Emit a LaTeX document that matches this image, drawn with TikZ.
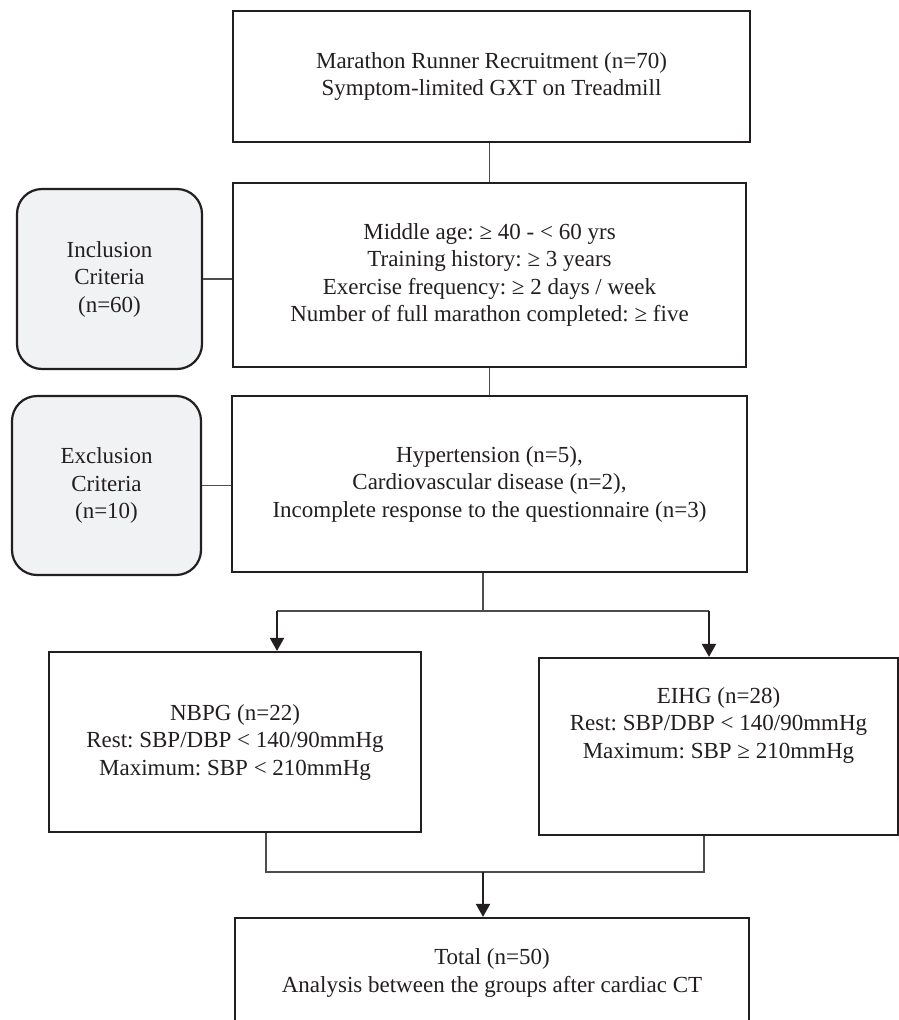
\documentclass[tikz,border=0pt]{standalone}
\usepackage{fontspec}
\setmainfont{Liberation Serif}
\usetikzlibrary{arrows.meta}
\frenchspacing
\definecolor{ink}{HTML}{231F20}
\definecolor{critfill}{HTML}{F1F2F4}
\definecolor{conn}{HTML}{4D4D4D}
\tikzset{
  txt/.style={align=center, text=ink, font=\fontsize{23}{27.5}\selectfont\frenchspacing, inner sep=0pt},
  box/.style={txt, draw=ink, line width=2.2pt, fill=white},
  crit/.style={txt, draw=ink, line width=2.2pt, fill=critfill, rounded corners=25pt},
  conline/.style={draw=conn, line width=1.2pt},
  arr/.style={draw=ink, line width=2pt, -{Triangle[length=13pt,width=14pt]}}
}
\begin{document}
\begin{tikzpicture}[x=1pt,y=-1pt]
\clip (0,0) rectangle (899,1020);
\fill[white] (0,0) rectangle (899,1020);

\node[box, minimum width=517pt, minimum height=131pt] (top) at (491.5,76.5)
  {Marathon Runner Recruitment (n=70)\\Symptom-limited GXT on Treadmill};

\node[box, minimum width=513pt, minimum height=184pt] (incl) at (489.5,275)
  {Middle age: ≥ 40 - < 60 yrs\\Training history: ≥ 3 years\\Exercise frequency: ≥ 2 days / week\\Number of full marathon completed: ≥ five};

\node[crit, minimum width=185pt, minimum height=180pt] (inclcrit) at (109.5,279)
  {Inclusion\\Criteria\\(n=60)};

\node[crit, minimum width=189pt, minimum height=179pt] (exclcrit) at (106.5,485.5)
  {Exclusion\\Criteria\\(n=10)};

\node[box, minimum width=515pt, minimum height=176pt] (excl) at (489.5,484)
  {Hypertension (n=5),\\Cardiovascular disease (n=2),\\Incomplete response to the questionnaire (n=3)};

\node[box, minimum width=372pt, minimum height=180pt] (nbpg) at (235,742)
  {NBPG (n=22)\\Rest: SBP/DBP < 140/90mmHg\\Maximum: SBP < 210mmHg};

\node[box, minimum width=359pt, minimum height=177pt] (eihg) at (718.5,746.5) {};
\node[txt] (eihgtxt) at (718.5,725)
  {EIHG (n=28)\\Rest: SBP/DBP < 140/90mmHg\\Maximum: SBP ≥ 210mmHg};

\node[box, minimum width=514pt, minimum height=110pt] (total) at (492,973)
  {Total (n=50)\\Analysis between the groups after cardiac CT};

% connectors
\draw[conline] (incl.north) -- (incl.north |- top.south);
\draw[conline] (inclcrit.east) -- (inclcrit.east -| incl.west);
\draw[conline] (excl.north) -- (excl.north |- incl.south);
\draw[conline] (exclcrit.east) -- (exclcrit.east -| excl.west);

\coordinate (split) at (483,611);
\coordinate (bl) at (277,611);
\coordinate (br) at (709,611);
\draw[conline] (split |- excl.south) -- (split);
\draw[conline] (bl) -- (br);
\draw[arr] (bl) -- (bl |- nbpg.north);
\draw[arr] (br) -- (br |- eihg.north);

\coordinate (jl) at (266,872);
\coordinate (jr) at (704,872);
\coordinate (jm) at (483,872);
\draw[conline] (jl |- nbpg.south) -- (jl) -- (jr) -- (jr |- eihg.south);
\draw[arr] (jm) -- (jm |- total.north);
\end{tikzpicture}
\end{document}
